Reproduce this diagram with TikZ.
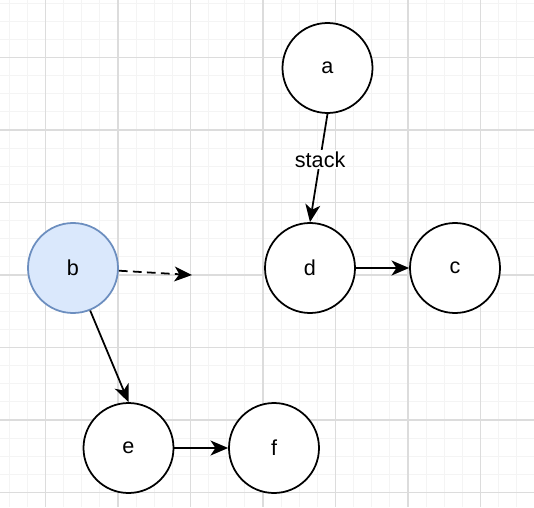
\documentclass[tikz,border=0pt]{standalone}
\usepackage{fontspec}
\setmainfont{Liberation Sans}
\usepackage{xcolor}
\usetikzlibrary{arrows.meta}
\definecolor{minorgrid}{RGB}{244,244,244}
\definecolor{majorgrid}{RGB}{220,220,220}
\definecolor{bfill}{HTML}{DAE8FC}
\definecolor{bdraw}{HTML}{6C8EBF}

\begin{document}
\begin{tikzpicture}[x=0.02cm, y=-0.02cm,
    vertex/.style={draw, circle, line width=1pt, minimum size=90*0.02cm, inner sep=0pt, fill=white, font=\fontsize{12.3}{14}\selectfont},
    link/.style={line width=1pt, -{Stealth[length=10pt, width=8.5pt, inset=2.8pt]}}]
    \useasboundingbox (0,0) rectangle (534,507);
    \fill[white] (0,0) rectangle (534,507);
    % grid
    \foreach \k in {0,...,29} {
        \draw[minorgrid, line width=0.5pt] (9.25+18.125*\k,0) -- (9.25+18.125*\k,507);
        \draw[minorgrid, line width=0.5pt] (0,3.125+18.125*\k) -- (534,3.125+18.125*\k);
    }
    \foreach \k in {0,...,7} {
        \draw[majorgrid, line width=0.6pt] (45.5+72.5*\k,0) -- (45.5+72.5*\k,507);
        \draw[majorgrid, line width=0.6pt] (0,57.5+72.5*\k) -- (534,57.5+72.5*\k);
    }

    \node[vertex] (a) at (327.5,68) {a};
    \node[vertex] (d) at (310,268) {d};
    \node[vertex] (c) at (455,268) {c};
    \node[vertex, fill=bfill, draw=bdraw] (b) at (73,268) {b};
    \node[vertex] (e) at (128.5,448) {e};
    \node[vertex] (f) at (274,448) {f};
    \coordinate (bout) at (192,275);

    \draw[link] (a.south) -- node[pos=0.42, fill=white, inner sep=1pt, font=\fontsize{12.3}{14}\selectfont] {stack} (d.north);
    \draw[link] (d) -- (c);
    \draw[link, dashed, dash pattern=on 5pt off 3pt] (b) -- (bout);
    \draw[link] (b.292) -- (e.north);
    \draw[link] (e) -- (f);
\end{tikzpicture}
\end{document}
